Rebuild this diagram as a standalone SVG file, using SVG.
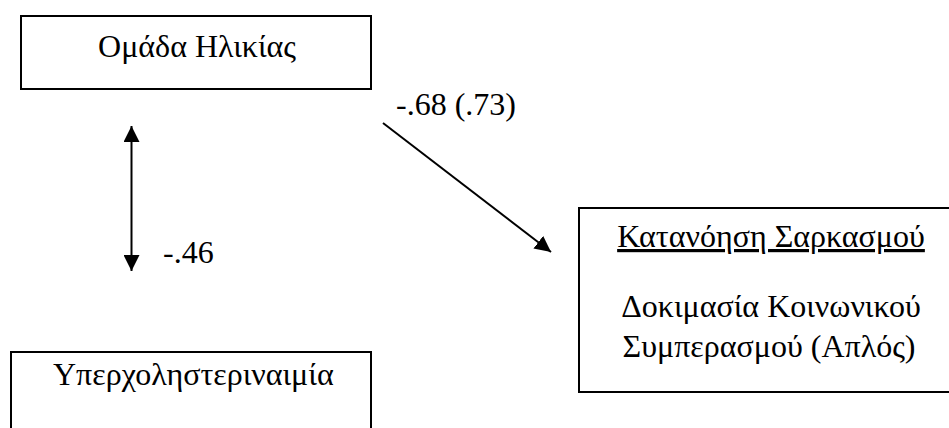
<svg xmlns="http://www.w3.org/2000/svg" width="949" height="428" viewBox="0 0 949 428">
<defs>
<style>
.box{fill:#fff;stroke:#000;stroke-width:2}
.t{font-family:'Liberation Serif',serif;font-size:32px;fill:#000}
.ln{stroke:#000;stroke-width:2;fill:none}
</style>
<marker id="ah2" viewBox="0 0 10 10" refX="10" refY="5" markerWidth="16" markerHeight="16" markerUnits="userSpaceOnUse" orient="auto-start-reverse">
<path d="M0,0 L10,5 L0,10 z" fill="#000"/>
</marker>
</defs>
<rect width="949" height="428" fill="#fff"/>
<g id="age">
<rect class="box" x="21" y="16" width="350" height="73"/>
<text class="t" x="197" y="57" text-anchor="middle">Ομάδα Ηλικίας</text>
</g>
<g id="hyper">
<rect class="box" x="11" y="352" width="360" height="90"/>
<text class="t" x="53" y="385">Υπερχοληστεριναιμία</text>
</g>
<g id="sarcasm">
<rect class="box" x="579" y="208" width="380" height="184"/>
<text class="t" x="771" y="247" text-anchor="middle" text-decoration="underline">Κατανόηση Σαρκασμού</text>
<text class="t" x="771" y="317" text-anchor="middle">Δοκιμασία Κοινωνικού</text>
<text class="t" x="769" y="357" text-anchor="middle">Συμπερασμού (Απλός)</text>
</g>
<g id="connectors">
<line class="ln" x1="131.5" y1="126" x2="131.5" y2="271" marker-start="url(#ah2)" marker-end="url(#ah2)"/>
<line class="ln" x1="383" y1="123" x2="551" y2="252" marker-end="url(#ah2)"/>
<text class="t" x="396" y="115">-.68 (.73)</text>
<text class="t" x="163" y="263">-.46</text>
</g>
</svg>
